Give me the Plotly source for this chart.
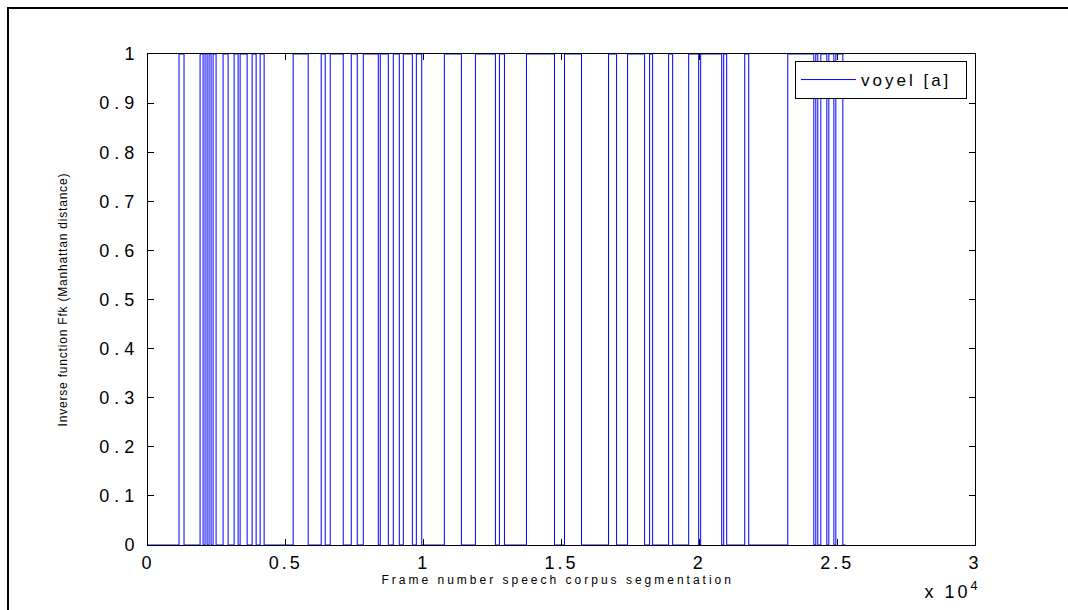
import plotly.graph_objects as go

# Transition frame numbers of the 0/1 signal
transitions = [
    1126, 1307,
    1889, 1998, 2070, 2143, 2216, 2288, 2361, 2470,
    2724, 2906, 3124, 3269, 3342, 3596, 3777, 3923, 4068, 4213,
    5266, 5811, 6283, 6429, 6610, 7082, 7373, 7591, 7809,
    8354, 8426, 8717, 8898, 9116, 9262, 9589, 9734, 9930,
    10751, 11368, 11877, 12603, 12748, 12930, 13729, 14746, 15109, 15726,
    16707, 16998, 17397, 18015, 18196, 18305, 18886, 19032, 19613, 19976, 20049,
    20812, 20884, 20993, 21647, 21792, 23209,
    24153, 24225, 24298, 24407, 24625, 24698, 24880, 24952, 25206,
]
signal_start = 0
signal_end = 25300

x_ticks = [0, 5000, 10000, 15000, 20000, 25000, 30000]
x_tick_labels = ["0", "0.5", "1", "1.5", "2", "2.5", "3"]
y_ticks = [0, 0.1, 0.2, 0.3, 0.4, 0.5, 0.6, 0.7, 0.8, 0.9, 1]
y_tick_labels = ["0", "0.1", "0.2", "0.3", "0.4", "0.5", "0.6", "0.7", "0.8", "0.9", "1"]

xs = [signal_start]
ys = [0]
level = 0
for t in transitions:
    level = 1 - level
    xs.append(t)
    ys.append(level)
xs.append(signal_end)
ys.append(0)

W, H = 1068, 610
L, R, T, B = 148, 93, 54, 65
pw, ph = W - L - R, H - T - B

def px(xp):
    return (xp - L) / pw

def py(yp):
    return (H - B - yp) / ph

font = "Liberation Sans, Arial, Helvetica, sans-serif"

fig = go.Figure()
fig.add_trace(go.Scatter(
    x=xs, y=ys, mode="lines", line_shape="hv",
    line=dict(color="#0000FF", width=1),
    name="voyel [a]",
))

axis_common = dict(
    showline=True, linecolor="black", linewidth=1, mirror="ticks",
    ticks="inside", ticklen=6, tickcolor="black", tickwidth=1,
    showgrid=False, zeroline=False,
)

fig.update_layout(
    width=W, height=H,
    margin=dict(l=L, r=R, t=T, b=B),
    paper_bgcolor="white", plot_bgcolor="white",
    font=dict(family=font, color="black"),
    showlegend=True,
    legend=dict(
        orientation="h",
        x=px(967), y=py(61), xanchor="right", yanchor="top",
        bgcolor="white", bordercolor="black", borderwidth=1,
        font=dict(family=font, size=17, color="black"),
        itemwidth=55,
        entrywidth=100, entrywidthmode="pixels",
    ),
    xaxis=dict(
        range=[0, 30000], tickvals=x_ticks, ticktext=x_tick_labels,
        tickfont=dict(family=font, size=18, color="black"),
        ticklabelstandoff=1,
        **axis_common,
    ),
    yaxis=dict(
        range=[0, 1], tickvals=y_ticks, ticktext=y_tick_labels,
        tickfont=dict(family=font, size=18, color="black"),
        ticklabelstandoff=4,
        **axis_common,
    ),
)

# axis titles
fig.add_annotation(
    x=px(557), y=py(580), xref="paper", yref="paper",
    xanchor="center", yanchor="middle", showarrow=False,
    text="Frame number speech corpus segmentation",
    font=dict(family=font, size=12, color="black"),
    name="xtitle",
)
fig.add_annotation(
    x=px(63), y=py(300), xref="paper", yref="paper",
    xanchor="center", yanchor="middle", showarrow=False, textangle=-90,
    text="Inverse function Ffk (Manhattan distance)",
    font=dict(family=font, size=12, color="black"),
    name="ytitle",
)
# exponent label
fig.add_annotation(
    x=px(975), y=py(590), xref="paper", yref="paper",
    xanchor="right", yanchor="middle", showarrow=False,
    text="x 10<sup>4</sup>",
    font=dict(family=font, size=18, color="black"),
    name="expo",
)

# outer frame (figure border)
fig.add_shape(type="line", xref="paper", yref="paper",
              x0=px(7), x1=px(1075), y0=py(8), y1=py(8),
              line=dict(color="black", width=2))
fig.add_shape(type="line", xref="paper", yref="paper",
              x0=px(8), x1=px(8), y0=py(7), y1=py(620),
              line=dict(color="black", width=2))

post = """
document.body.style.margin = '0';
function sp(sel, v) {
  document.querySelectorAll(sel).forEach(function (e) { e.style.letterSpacing = v; });
}
sp('.xtick text', '3px');
sp('.ytick text', '5px');
sp('.legendtext', '3px');
var anns = document.querySelectorAll('.annotation-text');
if (anns.length >= 3) {
  anns[0].style.letterSpacing = '3px';
  anns[1].style.letterSpacing = '0.8px';
  anns[2].style.letterSpacing = '3px';
}
"""
fig.write_html("out.html", post_script=post, config={"displayModeBar": False})
